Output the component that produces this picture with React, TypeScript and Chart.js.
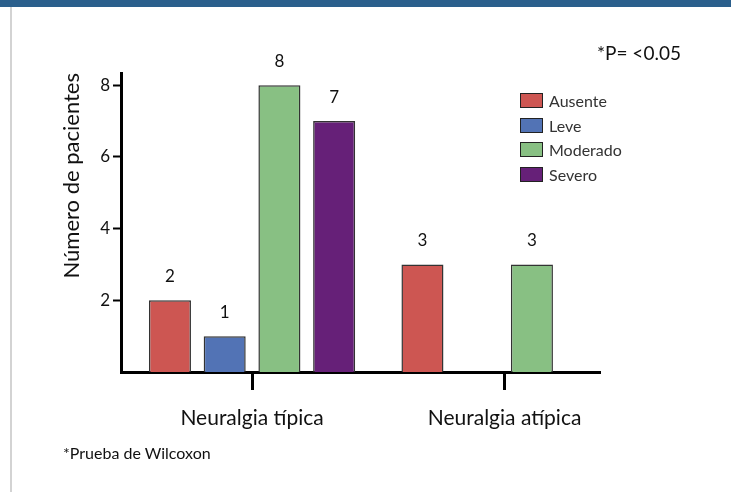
import React, { useEffect, useRef } from 'react';
import { Chart, registerables } from 'chart.js';

Chart.register(...registerables);

const categories = ['Neuralgia típica', 'Neuralgia atípica'];
const seriesNames = ['Ausente', 'Leve', 'Moderado', 'Severo'];
const ausente = [2, 3];
const leve = [1, null];
const moderado = [8, 3];
const severo = [7, null];
const seriesValues = [ausente, leve, moderado, severo];
const seriesColors = ['#CD5652', '#5273B5', '#88C083', '#662078'];
const yTicks = [2, 4, 6, 8];
const yTitle = 'Número de pacientes';
const pNote = '*P= <0.05';
const footNote = '*Prueba de Wilcoxon';

const FONT = 'Lato, "Open Sans", sans-serif';

const valueLabels = {
  id: 'valueLabels',
  afterDatasetsDraw(chart: any) {
    const ctx = chart.ctx;
    ctx.save();
    ctx.font = `17px ${FONT}`;
    ctx.fillStyle = '#111';
    ctx.textAlign = 'center';
    ctx.textBaseline = 'middle';
    chart.data.datasets.forEach((ds: any, di: number) => {
      const meta = chart.getDatasetMeta(di);
      meta.data.forEach((el: any, i: number) => {
        const v = ds.data[i].y;
        if (v == null) return;
        ctx.fillText(String(v), el.x, el.y - 24);
      });
    });
    ctx.restore();
  },
};

export default function App() {
  const canvasRef = useRef<HTMLCanvasElement | null>(null);

  useEffect(() => {
    const canvas = canvasRef.current;
    if (!canvas) return;
    const chart = new Chart(canvas, {
      type: 'bar',
      data: {
        datasets: seriesNames.map((name, si) => ({
          label: name,
          data: seriesValues[si].map((v, i) => ({ x: i + 1, y: v })),
          backgroundColor: seriesColors[si],
          borderColor: '#333',
          borderWidth: 1.5,
          categoryPercentage: 0.867,
          barPercentage: 0.768,
        })),
      },
      options: {
        responsive: false,
        devicePixelRatio: 1,
        animation: false,
        layout: { padding: { top: 73, right: 131, left: 0, bottom: 0 } },
        plugins: {
          legend: { display: false },
          tooltip: { enabled: false },
        },
        scales: {
          x: {
            type: 'linear',
            offset: false,
            min: 0.481,
            max: 2.378,
            afterBuildTicks: (s: any) => {
              s.ticks = categories.map((_, i) => ({ value: i + 1 }));
            },
            afterFit: (s: any) => {
              s.height = 120;
            },
            ticks: {
              callback: (v: any) => categories[Math.round(Number(v)) - 1] ?? '',
              font: { family: FONT, size: 21 },
              color: '#111',
              padding: 16,
              maxRotation: 0,
              autoSkip: false,
            },
            grid: {
              offset: false,
              drawOnChartArea: false,
              drawTicks: true,
              tickLength: 18,
              tickWidth: 3,
              tickColor: '#000',
            },
            border: { display: true, color: '#000', width: 3 },
          },
          y: {
            type: 'linear',
            min: 0,
            max: 8.34,
            afterBuildTicks: (s: any) => {
              s.ticks = yTicks.map((v) => ({ value: v }));
            },
            afterFit: (s: any) => {
              s.width = 121;
            },
            ticks: {
              font: { family: FONT, size: 17 },
              color: '#111',
              padding: 3,
            },
            grid: {
              drawOnChartArea: false,
              drawTicks: true,
              tickLength: 8,
              tickWidth: 2,
              tickColor: '#000',
            },
            border: { display: true, color: '#000', width: 3 },
            title: {
              display: true,
              text: yTitle,
              align: 'end',
              color: '#111',
              font: { family: FONT, size: 22 },
              padding: { top: 59, bottom: 0 },
            },
          },
        },
      } as any,
      plugins: [valueLabels],
    });
    return () => chart.destroy();
  }, []);

  return (
    <div
      style={{
        position: 'absolute',
        left: 0,
        top: 0,
        width: 731,
        height: 492,
        background: '#fff',
        overflow: 'hidden',
        fontFamily: FONT,
      }}
    >
      <div style={{ position: 'absolute', left: 0, top: 0, width: 731, height: 7, background: '#2B5F8C' }} />
      <div style={{ position: 'absolute', left: 10, top: 7, width: 2, height: 485, background: '#D3D3D3' }} />
      <canvas ref={canvasRef} width={731} height={492} style={{ position: 'absolute', left: 0, top: 0 }} />
      <div
        style={{
          position: 'absolute',
          left: 597,
          top: 41,
          height: 24,
          lineHeight: '24px',
          fontSize: 19,
          color: '#111',
          whiteSpace: 'nowrap',
        }}
      >
        {pNote}
      </div>
      {seriesNames.map((name, i) => (
        <div
          key={name}
          style={{
            position: 'absolute',
            left: 520,
            top: 93 + 24.5 * i,
            height: 15,
            display: 'flex',
            alignItems: 'center',
            whiteSpace: 'nowrap',
          }}
        >
          <div
            style={{
              width: 23,
              height: 15,
              boxSizing: 'border-box',
              border: '1.5px solid #222',
              background: seriesColors[i],
            }}
          />
          <span style={{ marginLeft: 6, fontSize: 16, color: '#333', lineHeight: '15px' }}>{name}</span>
        </div>
      ))}
      <div
        style={{
          position: 'absolute',
          left: 63,
          top: 443,
          height: 20,
          lineHeight: '20px',
          fontSize: 16,
          color: '#111',
          whiteSpace: 'nowrap',
        }}
      >
        {footNote}
      </div>
    </div>
  );
}
